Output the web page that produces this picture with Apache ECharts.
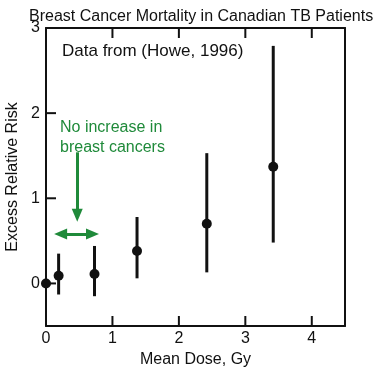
<!DOCTYPE html>
<html lang="en">
<head>
    <meta charset="UTF-8">
    <title>Breast Cancer Mortality</title>
    <script src="https://cdn.jsdelivr.net/npm/echarts@6/dist/echarts.min.js"></script>
</head>
<body style="margin: 0">
<div id="main" style="width: 381px;height: 375px"></div>
</body>

<script>
    // mean dose (Gy), excess relative risk and its error bar ends
    const dose = [0, 0.19, 0.73, 1.37, 2.42, 3.42];
    const err = [0, 0.09, 0.11, 0.38, 0.70, 1.37];
    const errLow = [0, -0.13, -0.15, 0.06, 0.13, 0.48];
    const errHigh = [0, 0.35, 0.44, 0.78, 1.53, 2.79];

    const xTicks = [0, 1, 2, 3, 4];
    const yTicks = [0, 1, 2, 3];
    const xMin = 0, xMax = 4.5;
    const yMin = -0.5, yMax = 3;

    // green annotation arrows (data coords)
    const arrowDown = [[0.47, 1.54], [0.47, 0.80]];
    const arrowBoth = [[0.22, 0.58], [0.70, 0.58]];

    const green = '#1f8a3a';
    const font = 'Liberation Sans';

    const points = dose.map((d, i) => [d, err[i]]);

    // one custom series draws error bars (kind 3) and inward ticks
    // kind 0 = bottom tick, 1 = top tick, 2 = left tick
    const marks = dose.map((d, i) => [d, errLow[i], errHigh[i], 3]);
    xTicks.filter(v => v > xMin).forEach(v => {
        marks.push([v, yMin, 0, 0]);
        marks.push([v, yMax, 0, 1]);
    });
    yTicks.filter(v => v > yMin && v < yMax).forEach(v => marks.push([xMin, v, 0, 2]));

    const chart = echarts.init(document.getElementById('main'));

    const axisLine = {show: true, onZero: false, lineStyle: {color: '#111', width: 2}};

    let option = {
        animation: false,
        title: [
            {
                text: 'Breast Cancer Mortality in Canadian TB Patients',
                left: 24, top: 4,
                textStyle: {fontSize: 16, fontWeight: 'normal', color: '#111', fontFamily: font}
            },
            {
                text: 'Data from (Howe, 1996)',
                left: 57, top: 38,
                textStyle: {fontSize: 17, fontWeight: 'normal', color: '#111', fontFamily: font}
            },
            {
                text: 'No increase in\nbreast cancers',
                left: 55, top: 113,
                textStyle: {fontSize: 16, fontWeight: 'normal', color: green, lineHeight: 20, fontFamily: font}
            }
        ],
        grid: {left: 46, right: 36, top: 28, bottom: 49, outerBoundsMode: 'none', containLabel: false},
        xAxis: [
            {
                type: 'value', min: xMin, max: xMax,
                name: 'Mean Dose, Gy', nameLocation: 'middle', nameGap: 26,
                nameTextStyle: {fontSize: 16, color: '#111', fontFamily: font},
                axisLine: axisLine,
                axisTick: {show: false},
                axisLabel: {customValues: xTicks, fontSize: 16, color: '#111', margin: 5, fontFamily: font},
                splitLine: {show: false}
            },
            {
                type: 'value', min: xMin, max: xMax, position: 'top',
                axisLine: axisLine,
                axisTick: {show: false},
                axisLabel: {show: false},
                splitLine: {show: false}
            }
        ],
        yAxis: [
            {
                type: 'value', min: yMin, max: yMax,
                name: 'Excess Relative Risk', nameLocation: 'middle', nameGap: 24,
                nameTextStyle: {fontSize: 16, color: '#111', fontFamily: font},
                axisLine: axisLine,
                axisTick: {show: false},
                axisLabel: {customValues: yTicks, fontSize: 16, color: '#111', margin: 6, fontFamily: font},
                splitLine: {show: false}
            },
            {
                type: 'value', min: yMin, max: yMax, position: 'right',
                axisLine: axisLine,
                axisTick: {show: false},
                axisLabel: {show: false},
                splitLine: {show: false}
            }
        ],
        series: [
            {
                id: 'marks',
                type: 'custom',
                data: marks,
                z: 10,
                renderItem: function (params, api) {
                    const kind = api.value(3);
                    const p = api.coord([api.value(0), api.value(1)]);
                    let end;
                    let width = 2;
                    if (kind === 3) {
                        end = api.coord([api.value(0), api.value(2)]);
                        width = 3;
                    } else if (kind === 0) {
                        end = [p[0], p[1] - 10];
                    } else if (kind === 1) {
                        end = [p[0], p[1] + 10];
                    } else {
                        end = [p[0] + 10, p[1]];
                    }
                    return {
                        type: 'line',
                        shape: {x1: p[0], y1: p[1], x2: end[0], y2: end[1]},
                        style: {stroke: '#111', lineWidth: width}
                    };
                }
            },
            {
                id: 'points',
                type: 'scatter',
                data: points,
                z: 12,
                symbol: 'circle',
                symbolSize: 10,
                itemStyle: {color: '#111', opacity: 1},
                markLine: {
                    silent: true,
                    symbolSize: [11, 13],
                    label: {show: false},
                    lineStyle: {color: green, width: 3, type: 'solid'},
                    data: [
                        [
                            {coord: arrowDown[0], symbol: 'none'},
                            {coord: arrowDown[1], symbol: 'triangle'}
                        ],
                        [
                            {coord: arrowBoth[0], symbol: 'triangle'},
                            {coord: arrowBoth[1], symbol: 'triangle'}
                        ]
                    ]
                }
            }
        ]
    };
    chart.setOption(option);
</script>

</html>
